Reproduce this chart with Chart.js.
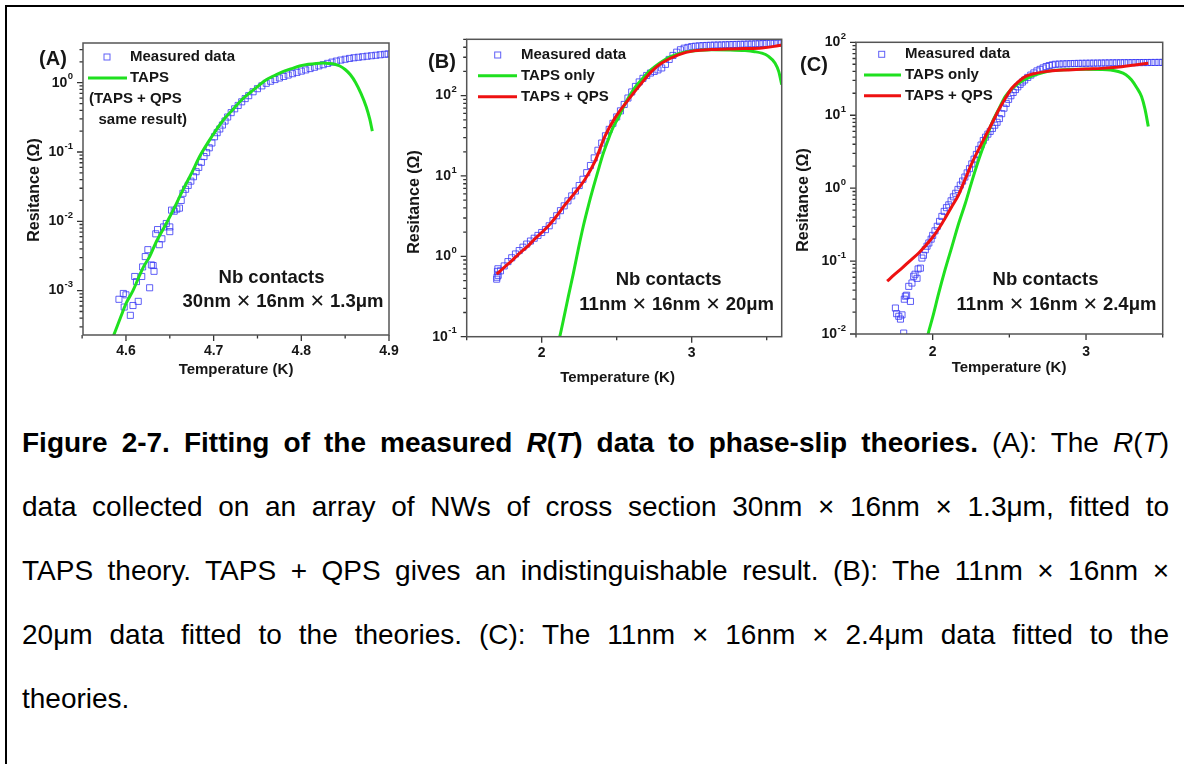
<!DOCTYPE html>
<html>
<head>
<meta charset="utf-8">
<script src="https://cdn.jsdelivr.net/npm/chart.js@4.4.0/dist/chart.umd.min.js"></script>
<style>
  html, body { margin: 0; padding: 0; background: #fff; }
  body { width: 1184px; height: 764px; position: relative; overflow: hidden;
         font-family: "Liberation Sans", Arial, sans-serif; }
  #frame { position: absolute; left: 5px; top: 5px; width: 1300px; height: 900px;
           border: 2px solid #000; box-sizing: border-box; }
  canvas { position: absolute; top: 0; }
  #caption { position: absolute; left: 22px; top: 411px; width: 1147px;
             font-size: 28px; line-height: 64px; color: #000; }
  #caption div { text-align: justify; text-align-last: justify; }
  #caption div.last { text-align-last: left; }
</style>
</head>
<body>
<div id="frame"></div>
<canvas id="panelA" width="400" height="390" style="left:0px"></canvas>
<canvas id="panelB" width="395" height="390" style="left:395px"></canvas>
<canvas id="panelC" width="399" height="390" style="left:785px"></canvas>

<div id="caption">
  <div><b>Figure 2-7. Fitting of the measured <i>R</i>(<i>T</i>) data to phase-slip theories.</b> (A): The <i>R</i>(<i>T</i>)</div>
  <div>data collected on an array of NWs of cross section 30nm × 16nm × 1.3μm, fitted to</div>
  <div>TAPS theory. TAPS + QPS gives an indistinguishable result. (B): The 11nm × 16nm ×</div>
  <div>20μm data fitted to the theories. (C): The 11nm × 16nm × 2.4μm data fitted to the</div>
  <div class="last">theories.</div>
</div>

<script>
// ---- (A) 30nm x 16nm x 1.3um wire ----
const measTA = [4.592, 4.597, 4.600, 4.598, 4.605, 4.608, 4.614, 4.610, 4.612, 4.618,
  4.619, 4.622, 4.625, 4.627, 4.629, 4.632, 4.631, 4.634, 4.636, 4.638,
  4.641, 4.643, 4.646, 4.650, 4.650, 4.652, 4.655, 4.658, 4.661, 4.663,
  4.665, 4.668, 4.671, 4.674, 4.677, 4.680, 4.683, 4.686, 4.689, 4.692,
  4.695, 4.698, 4.701, 4.704, 4.707, 4.710, 4.713, 4.716, 4.720, 4.724,
  4.728, 4.732, 4.736, 4.740, 4.745, 4.750, 4.755, 4.760, 4.765, 4.770,
  4.775, 4.780, 4.785, 4.790, 4.795, 4.800, 4.805, 4.810, 4.815, 4.820,
  4.825, 4.830, 4.835, 4.840, 4.845, 4.850, 4.855, 4.860, 4.865, 4.870,
  4.875, 4.880, 4.885, 4.890, 4.895, 4.899];
const measRA = [7.5e-4, 9.1e-4, 8.7e-4, 5.8e-4, 4.4e-4, 6.1e-4, 7.0e-4, 1.6e-3, 1.35e-3, 1.6e-3,
  2.2e-3, 3.1e-3, 3.9e-3, 1.1e-3, 2.35e-3, 1.9e-3, 2.3e-3, 6.6e-3, 7.6e-3, 4.6e-3,
  5.6e-3, 8.3e-3, 9.3e-3, 7.1e-3, 8.3e-3, 1.45e-2, 1.4e-2, 1.5e-2, 1.55e-2, 2.0e-2,
  0.0254, 0.029, 0.033, 0.038, 0.044, 0.052, 0.060, 0.071, 0.086, 0.098,
  0.115, 0.135, 0.166, 0.19, 0.215, 0.245, 0.28, 0.32, 0.37, 0.42,
  0.47, 0.53, 0.59, 0.65, 0.74, 0.82, 0.90, 0.98, 1.05, 1.11,
  1.17, 1.23, 1.29, 1.35, 1.41, 1.47, 1.53, 1.60, 1.67, 1.75,
  1.82, 1.90, 1.98, 2.05, 2.12, 2.18, 2.24, 2.29, 2.33, 2.37,
  2.41, 2.45, 2.49, 2.53, 2.57, 2.60];
const tapsTA = [4.585, 4.595, 4.600, 4.608, 4.615, 4.620, 4.627, 4.635, 4.646, 4.655,
  4.665, 4.675, 4.684, 4.694, 4.703, 4.712, 4.722, 4.731, 4.741, 4.750,
  4.760, 4.770, 4.779, 4.789, 4.798, 4.808, 4.817, 4.825, 4.831, 4.838,
  4.844, 4.850, 4.856, 4.862, 4.868, 4.874, 4.878, 4.881];
const tapsRA = [2.1e-4, 4.5e-4, 6.5e-4, 1.0e-3, 1.6e-3, 2.2e-3, 3.1e-3, 5.2e-3, 9.3e-3, 0.0155,
  0.0284, 0.050, 0.086, 0.14, 0.209, 0.30, 0.41, 0.55, 0.71, 0.88,
  1.10, 1.28, 1.45, 1.60, 1.74, 1.84, 1.90, 1.92, 1.90, 1.85,
  1.74, 1.55, 1.30, 1.00, 0.70, 0.45, 0.30, 0.20];

// ---- (B) 11nm x 16nm x 20um wire ----
const measTB = [1.700, 1.702, 1.705, 1.708, 1.710,
  1.725, 1.750, 1.775, 1.800, 1.825, 1.850, 1.875, 1.900, 1.925, 1.950,
  1.975, 2.000, 2.025, 2.050, 2.075, 2.100, 2.125, 2.150, 2.175, 2.200,
  2.225, 2.250, 2.275, 2.300, 2.325, 2.350, 2.375, 2.400, 2.425, 2.450,
  2.475, 2.500, 2.525, 2.550, 2.575, 2.600, 2.625, 2.650, 2.675, 2.700,
  2.725, 2.750, 2.775, 2.800, 2.825, 2.850, 2.875, 2.900, 2.925, 2.950,
  2.975, 3.000, 3.025, 3.050, 3.075, 3.100, 3.125, 3.150, 3.175, 3.200,
  3.225, 3.250, 3.275, 3.300, 3.325, 3.350, 3.375, 3.400, 3.425, 3.450,
  3.475, 3.500, 3.525, 3.550, 3.575, 3.600];
const measRB = [0.52, 0.55, 0.65, 0.70, 0.58,
  0.66, 0.76, 0.86, 0.96, 1.07, 1.18, 1.30, 1.42, 1.55, 1.68,
  1.82, 1.98, 2.15, 2.40, 2.78, 3.20, 3.70, 4.25, 4.90, 5.65,
  6.50, 7.60, 9.10, 11.0, 13.5, 16.8, 20.9, 25.7, 31.6, 38.0,
  45.2, 54.3, 64.6, 77.6, 93.3, 111, 130, 148, 164, 178,
  191, 200, 209, 221, 245, 282, 316, 347, 372, 389,
  398, 407, 412, 416, 419, 421, 423, 425, 426, 427,
  429, 430, 432, 433, 435, 436, 438, 439, 441, 442,
  444, 446, 448, 449, 451, 452];
const tapsTB = [2.100, 2.122, 2.150, 2.178, 2.210, 2.244, 2.278, 2.311, 2.345, 2.378,
  2.410, 2.444, 2.478, 2.511, 2.545, 2.578, 2.620, 2.667, 2.710, 2.756,
  2.810, 2.867, 2.920, 2.978, 3.050, 3.133, 3.250, 3.356, 3.420, 3.467,
  3.510, 3.556, 3.580, 3.600];
const tapsRB = [0.07, 0.103, 0.18, 0.32, 0.60, 1.23, 2.4, 4.25, 7.3, 12,
  19, 28.5, 41, 53, 72, 94, 125, 158, 195, 231,
  272, 309, 335, 355, 366, 372, 370, 363, 352, 338,
  310, 253, 200, 137];
const qpsTB = [1.700, 1.750, 1.800, 1.850, 1.911, 1.950, 2.000, 2.050, 2.089, 2.156,
  2.222, 2.289, 2.356, 2.422, 2.489, 2.578, 2.667, 2.733, 2.800, 2.911,
  3.022, 3.130, 3.244, 3.350, 3.467, 3.550, 3.600];
const qpsRB = [0.60, 0.73, 0.88, 1.08, 1.36, 1.62, 1.98, 2.45, 3.0, 4.4,
  6.2, 9.1, 15.3, 31.3, 52.8, 89, 144, 200, 254, 322,
  363, 375, 380, 385, 392, 410, 427];

// ---- (C) 11nm x 16nm x 2.4um wire ----
const measTC = [1.757, 1.765, 1.779, 1.790, 1.800, 1.811, 1.815, 1.822, 1.830, 1.844,
  1.855, 1.865, 1.876, 1.885, 1.898, 1.905, 1.920, 1.930, 1.940, 1.952,
  1.963, 1.975, 1.990, 2.000, 2.015, 2.030, 2.045, 2.060, 2.075, 2.090,
  2.105, 2.120, 2.135, 2.150, 2.165, 2.180, 2.195, 2.210, 2.225, 2.240,
  2.255, 2.270, 2.285, 2.300, 2.315, 2.330, 2.345, 2.360, 2.375, 2.390,
  2.405, 2.420, 2.435, 2.450, 2.465, 2.480, 2.495, 2.510, 2.525, 2.540,
  2.555, 2.570, 2.585, 2.600, 2.620, 2.640, 2.660, 2.680, 2.700, 2.720,
  2.740, 2.760, 2.780, 2.800, 2.825, 2.850, 2.875, 2.900, 2.925, 2.950,
  2.975, 3.000, 3.025, 3.050, 3.075, 3.100, 3.125, 3.150, 3.175, 3.200,
  3.225, 3.250, 3.275, 3.300, 3.325, 3.350, 3.375, 3.400, 3.425, 3.450,
  3.475, 3.500];
const measRC = [0.0227, 0.019, 0.0175, 0.016, 0.0183, 0.0103, 0.030, 0.033, 0.034, 0.045,
  0.028, 0.050, 0.062, 0.066, 0.058, 0.078, 0.080, 0.11, 0.12, 0.143,
  0.16, 0.177, 0.20, 0.225, 0.26, 0.30, 0.35, 0.41, 0.48, 0.54,
  0.59, 0.67, 0.76, 0.85, 0.96, 1.10, 1.25, 1.42, 1.62, 1.85,
  2.15, 2.5, 2.9, 3.4, 3.9, 4.5, 5.0, 5.5, 6.0, 6.6,
  7.3, 8.0, 9.0, 10.5, 12.5, 14.5, 16.5, 18.5, 20.5, 22.5,
  24.5, 26.5, 28.5, 30.4, 33, 35.5, 38, 40.5, 42.5, 44.5,
  46.5, 48, 49, 50, 50.3, 50.6, 50.8, 51, 51.2, 51.4,
  51.5, 51.6, 51.7, 51.8, 51.9, 52, 52.1, 52.2, 52.3, 52.3,
  52.4, 52.5, 52.5, 52.6, 52.7, 52.7, 52.8, 52.8, 52.9, 52.9,
  53, 53];
const tapsTC = [1.960, 1.970, 2.000, 2.039, 2.080, 2.126, 2.170, 2.213, 2.256, 2.300,
  2.343, 2.386, 2.430, 2.473, 2.516, 2.560, 2.614, 2.668, 2.720, 2.777,
  2.880, 2.994, 3.100, 3.160, 3.210, 3.260, 3.297, 3.330, 3.362, 3.385,
  3.406];
const tapsRC = [0.008, 0.010, 0.017, 0.036, 0.075, 0.159, 0.33, 0.62, 1.25, 2.45,
  4.4, 7.8, 12, 18, 23, 27.5, 32, 35.7, 38.5, 40.9,
  42.3, 42.7, 42.5, 41.8, 39.8, 36, 30.4, 24, 18, 12,
  7.0];
const qpsTC = [1.703, 1.750, 1.800, 1.850, 1.909, 1.996, 2.040, 2.082, 2.125, 2.169,
  2.210, 2.256, 2.300, 2.343, 2.390, 2.430, 2.473, 2.516, 2.560, 2.603,
  2.670, 2.733, 2.800, 2.885, 3.000, 3.102, 3.200, 3.319, 3.406];
const qpsRC = [0.053, 0.065, 0.080, 0.100, 0.129, 0.207, 0.28, 0.39, 0.56, 0.81,
  1.3, 2.2, 3.4, 5.1, 8.0, 11.8, 17, 23.4, 29, 33.9,
  37.5, 39.6, 41, 41.8, 43, 43.9, 45.5, 48.9, 51.5];

// axis ticks
const xMajorA = [4.6, 4.7, 4.8, 4.9];
const xMinorA = [4.55, 4.65, 4.75, 4.85];
const xMajorB = [2, 3];
const xMinorB = [1.5, 2.5, 3.5];
const xMajorC = [2, 3];
const xMinorC = [1.5, 2.5, 3.5];
const yDecadesA = [-3, -2, -1, 0];
const yDecadesB = [-1, 0, 1, 2];
const yDecadesC = [-2, -1, 0, 1, 2];

const FONT = '"Liberation Sans", Arial, sans-serif';
const BLUE = 'rgba(55, 55, 245, 0.8)';
const GREEN = '#1fe01f';
const RED = '#ee1111';
const INK = '#161616';

const pts = (t, r) => t.map((v, i) => ({ x: v, y: r[i] }));

function drawExpLabel(ctx, exp, xr, y) {
  const e = String(exp);
  ctx.font = 'bold 9.5px ' + FONT;
  const ew = ctx.measureText(e).width;
  ctx.textAlign = 'left';
  ctx.textBaseline = 'middle';
  ctx.fillText(e, xr - ew, y - 6);
  ctx.font = 'bold 14px ' + FONT;
  ctx.textAlign = 'right';
  ctx.fillText('10', xr - ew - 0.5, y);
}

function drawNoteLine(ctx, parts, cx, y) {
  const fonts = parts.map(p => p === '✕' ? '18px "DejaVu Sans", sans-serif' : 'bold 18.5px ' + FONT);
  const widths = parts.map((p, i) => { ctx.font = fonts[i]; return ctx.measureText(p).width; });
  let x = cx - widths.reduce((a, b) => a + b, 0) / 2;
  ctx.textAlign = 'left';
  ctx.textBaseline = 'middle';
  parts.forEach((p, i) => { ctx.font = fonts[i]; ctx.fillText(p, x, y); x += widths[i]; });
}

// frame, outward ticks, tick labels, titles, legend and notes for one panel
const panelDeco = {
  id: 'panelDeco',
  afterDatasetsDraw(chart, args, o) {
    const { ctx, chartArea: a, scales: { x, y } } = chart;
    ctx.save();
    ctx.fillStyle = INK;

    // x ticks
    ctx.strokeStyle = '#333';
    ctx.lineWidth = 1.3;
    ctx.beginPath();
    o.xMajor.forEach(v => { const px = x.getPixelForValue(v); ctx.moveTo(px, a.bottom); ctx.lineTo(px, a.bottom + 6); });
    o.xMinor.forEach(v => { const px = x.getPixelForValue(v); ctx.moveTo(px, a.bottom); ctx.lineTo(px, a.bottom + 3.5); });
    // y ticks (log decades + 2..9 minors)
    o.yDecades.forEach(e => {
      const py = y.getPixelForValue(Math.pow(10, e));
      ctx.moveTo(a.left, py); ctx.lineTo(a.left - 6, py);
    });
    for (let e = o.yDecades[0] - 1; e <= o.yDecades[o.yDecades.length - 1]; e++) {
      for (let k = 2; k <= 9; k++) {
        const v = k * Math.pow(10, e);
        if (v < y.min || v > y.max) continue;
        const py = y.getPixelForValue(v);
        ctx.moveTo(a.left, py); ctx.lineTo(a.left - 3.5, py);
      }
    }
    ctx.stroke();

    // plot frame
    ctx.strokeStyle = '#555';
    ctx.lineWidth = 1.5;
    ctx.strokeRect(a.left, a.top, a.right - a.left, a.bottom - a.top);

    // tick labels
    ctx.font = 'bold 14px ' + FONT;
    ctx.textAlign = 'center';
    ctx.textBaseline = 'middle';
    o.xMajor.forEach(v => ctx.fillText(o.xFmt(v), x.getPixelForValue(v), o.xLabelY));
    o.yDecades.forEach(e => drawExpLabel(ctx, e, a.left - 10, y.getPixelForValue(Math.pow(10, e))));

    // axis titles
    ctx.font = 'bold 15px ' + FONT;
    ctx.textAlign = 'center';
    ctx.fillText('Temperature (K)', o.xTitle[0], o.xTitle[1]);
    ctx.save();
    ctx.translate(o.yTitle[0], o.yTitle[1]);
    ctx.rotate(-Math.PI / 2);
    ctx.font = 'bold 16px ' + FONT;
    ctx.fillText('Resitance (Ω)', 0, 0);
    ctx.restore();

    // panel tag
    ctx.font = 'bold 20px ' + FONT;
    ctx.fillText(o.tag[0], o.tag[1], o.tag[2]);

    // legend
    o.legend.forEach(item => {
      if (item.kind === 'square') {
        ctx.strokeStyle = BLUE; ctx.lineWidth = 1;
        ctx.strokeRect(item.mx - 3, item.y - 3, 6, 6);
      } else if (item.kind === 'line') {
        ctx.strokeStyle = item.color; ctx.lineWidth = 3;
        ctx.beginPath(); ctx.moveTo(item.mx, item.y); ctx.lineTo(item.mx2, item.y); ctx.stroke();
      }
      ctx.fillStyle = INK;
      ctx.font = 'bold 15px ' + FONT;
      ctx.textAlign = 'left';
      ctx.fillText(item.text, item.tx, item.y);
    });

    // sample note
    ctx.font = 'bold 18.5px ' + FONT;
    ctx.textAlign = 'center';
    ctx.fillText('Nb contacts', o.note.cx1, o.note.y1);
    drawNoteLine(ctx, o.note.parts, o.note.cx2, o.note.y2);
    ctx.restore();
  }
};

function makePanel(id, d) {
  return new Chart(document.getElementById(id), {
    type: 'scatter',
    data: {
      datasets: [
        { label: 'TAPS + QPS', type: 'line', data: d.qps || [], borderColor: RED, borderWidth: 3,
          pointRadius: 0, cubicInterpolationMode: 'monotone', fill: false, order: 0 },
        { label: 'TAPS', type: 'line', data: d.taps, borderColor: GREEN, borderWidth: 3,
          pointRadius: 0, cubicInterpolationMode: 'monotone', fill: false, order: 1 },
        { label: 'Measured data', data: d.meas, pointStyle: 'rect', pointRadius: 4.3,
          borderColor: BLUE, backgroundColor: 'rgba(0,0,0,0)', borderWidth: 1, order: 2 }
      ]
    },
    options: {
      responsive: false,
      animation: false,
      events: [],
      layout: { padding: d.pad },
      plugins: { legend: { display: false }, tooltip: { enabled: false }, panelDeco: d.deco },
      scales: {
        x: { type: 'linear', display: false, min: d.x[0], max: d.x[1] },
        y: { type: 'logarithmic', display: false, min: d.y[0], max: d.y[1] }
      }
    },
    plugins: [panelDeco]
  });
}

makePanel('panelA', {
  meas: pts(measTA, measRA),
  taps: pts(tapsTA, tapsRA),
  x: [4.551, 4.9], y: [2.29e-4, 3.74],
  pad: { left: 83, top: 43, right: 11, bottom: 55 },
  deco: {
    xMajor: xMajorA, xMinor: xMinorA, xFmt: v => v.toFixed(1), xLabelY: 351,
    yDecades: yDecadesA,
    xTitle: [236, 370], yTitle: [35, 190],
    tag: ['(A)', 53, 59],
    legend: [
      { kind: 'square', mx: 107, y: 57, tx: 130, text: 'Measured data' },
      { kind: 'line', color: GREEN, mx: 88, mx2: 127, y: 78, tx: 130, text: 'TAPS' },
      { kind: 'text', y: 99, tx: 89, text: '(TAPS + QPS' },
      { kind: 'text', y: 120, tx: 98.5, text: 'same result)' }
    ],
    note: { cx1: 271.5, y1: 278, cx2: 283, y2: 302, parts: ['30nm ', '✕', ' 16nm ', '✕', ' 1.3μm'] }
  }
});

makePanel('panelB', {
  meas: pts(measTB, measRB),
  taps: pts(tapsTB, tapsRB),
  qps: pts(qpsTB, qpsRB),
  x: [1.5, 3.6], y: [0.1, 502],
  pad: { left: 71.7, top: 39.3, right: 8.3, bottom: 53.3 },
  deco: {
    xMajor: xMajorB, xMinor: xMinorB, xFmt: v => String(v), xLabelY: 353,
    yDecades: yDecadesB,
    xTitle: [222.5, 378], yTitle: [20, 202],
    tag: ['(B)', 47, 62],
    legend: [
      { kind: 'square', mx: 102.7, y: 55, tx: 126, text: 'Measured data' },
      { kind: 'line', color: GREEN, mx: 83, mx2: 122, y: 75.7, tx: 126, text: 'TAPS only' },
      { kind: 'line', color: RED, mx: 83, mx2: 122, y: 96.7, tx: 126, text: 'TAPS + QPS' }
    ],
    note: { cx1: 273.7, y1: 280, cx2: 281.7, y2: 305, parts: ['11nm ', '✕', ' 16nm ', '✕', ' 20μm'] }
  }
});

makePanel('panelC', {
  meas: pts(measTC, measRC),
  taps: pts(tapsTC, tapsRC),
  qps: pts(qpsTC, qpsRC),
  x: [1.5, 3.5], y: [0.01, 100],
  pad: { left: 71, top: 42.3, right: 21.3, bottom: 56 },
  deco: {
    xMajor: xMajorC, xMinor: xMinorC, xFmt: v => String(v), xLabelY: 352,
    yDecades: yDecadesC,
    xTitle: [224, 368], yTitle: [19, 200],
    tag: ['(C)', 29, 65],
    legend: [
      { kind: 'square', mx: 96.7, y: 54.3, tx: 120, text: 'Measured data' },
      { kind: 'line', color: GREEN, mx: 79, mx2: 116, y: 75, tx: 120, text: 'TAPS only' },
      { kind: 'line', color: RED, mx: 79, mx2: 116, y: 95.7, tx: 120, text: 'TAPS + QPS' }
    ],
    note: { cx1: 260.5, y1: 280, cx2: 271.5, y2: 305, parts: ['11nm ', '✕', ' 16nm ', '✕', ' 2.4μm'] }
  }
});
</script>
</body>
</html>
